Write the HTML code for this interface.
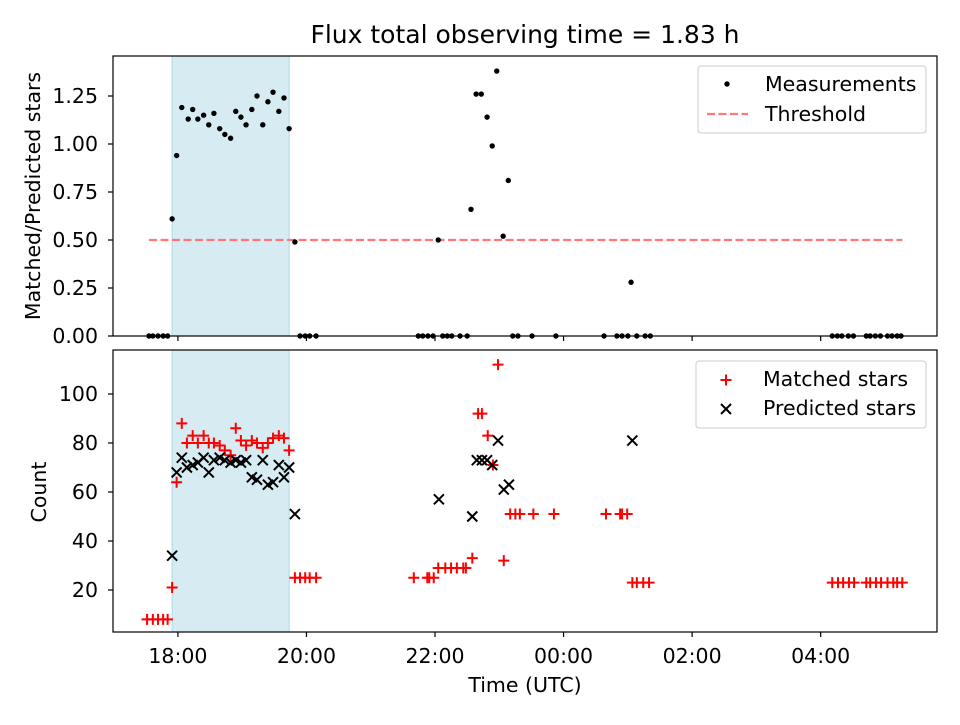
<!DOCTYPE html>
<html><head><meta charset="utf-8"><style>
body{margin:0;background:#fff;font-family:"Liberation Sans","DejaVu Sans",sans-serif}
svg text{font-family:"DejaVu Sans","Liberation Sans",sans-serif}
</style></head><body>
<svg id="c" width="960" height="720" viewBox="0 0 960 720"></svg>
<script>
const measT=[17.55,17.61,17.69,17.77,17.84,17.91,17.98,18.06,18.16,18.23,18.31,18.40,18.48,18.56,18.65,18.73,18.82,18.90,18.98,19.06,19.15,19.23,19.32,19.40,19.48,19.57,19.65,19.73,19.82,19.90,19.98,20.05,20.15,21.74,21.81,21.89,21.97,22.05,22.12,22.19,22.26,22.39,22.50,22.56,22.64,22.72,22.81,22.89,22.96,23.06,23.14,23.21,23.29,23.51,23.88,24.63,24.83,24.91,25.00,25.05,25.14,25.27,25.35,28.18,28.26,28.33,28.43,28.51,28.71,28.77,28.85,28.93,29.04,29.11,29.19,29.25];
const measV=[0,0,0,0,0,0.61,0.94,1.19,1.13,1.18,1.13,1.15,1.10,1.16,1.08,1.05,1.03,1.17,1.14,1.10,1.18,1.25,1.10,1.22,1.27,1.17,1.24,1.08,0.49,0,0,0,0,0,0,0,0,0.50,0,0,0,0,0,0.66,1.26,1.26,1.14,0.99,1.38,0.52,0.81,0,0,0,0,0,0,0,0,0.28,0,0,0,0,0,0,0,0,0,0,0,0,0,0,0,0];
const threshold=0.5, threshStart=17.55, threshEnd=29.27;
const shadeStart=17.91, shadeEnd=19.73;
const matchT=[17.52,17.61,17.69,17.77,17.84,17.91,17.98,18.06,18.14,18.23,18.31,18.40,18.48,18.56,18.65,18.73,18.82,18.90,18.98,19.06,19.15,19.23,19.32,19.40,19.48,19.57,19.65,19.73,19.82,19.90,19.98,20.05,20.15,21.67,21.88,21.91,21.98,22.05,22.16,22.25,22.34,22.44,22.48,22.58,22.67,22.73,22.82,22.90,22.98,23.07,23.17,23.25,23.32,23.53,23.85,24.66,24.88,24.91,24.99,25.07,25.14,25.24,25.33,28.18,28.27,28.35,28.44,28.52,28.71,28.77,28.86,28.94,29.04,29.13,29.19,29.27];
const matchV=[8,8,8,8,8,21,64,88,80,83,80,83,80,80,79,77,75,86,81,79,81,80,78,80,82,83,82,77,25,25,25,25,25,25,25,25,25,29,29,29,29,29,29,33,92,92,83,71,112,32,51,51,51,51,51,51,51,51,51,23,23,23,23,23,23,23,23,23,23,23,23,23,23,23,23,23];
const predT=[17.91,17.98,18.06,18.14,18.23,18.31,18.40,18.48,18.56,18.65,18.73,18.82,18.90,18.98,19.06,19.15,19.23,19.32,19.40,19.48,19.57,19.65,19.73,19.82,22.06,22.58,22.65,22.73,22.81,22.89,22.98,23.07,23.15,25.07];
const predV=[34,68,74,70,71,72,74,68,73,74,73,72,73,72,73,66,65,73,63,64,71,66,70,51,57,50,73,73,73,71,81,61,63,81];
const topTicks=[0,0.25,0.5,0.75,1.0,1.25];
const botTicks=[20,40,60,80,100];
const xTicks=[18,20,22,24,26,28];
const xLabels=["18:00","20:00","22:00","00:00","02:00","04:00"];

const NS="http://www.w3.org/2000/svg";
const svg=document.getElementById('c');
function el(tag,a,parent){const e=document.createElementNS(NS,tag);for(const k in a)e.setAttribute(k,a[k]);(parent||svg).appendChild(e);return e;}
const L=113,R=937;
const x=t=>L+(t-16.99)/(29.81-16.99)*(R-L);
const yT=v=>336-v*192;
const yB=v=>590-(v-20)*2.45;
const FS=20.5;

// top panel
const gTop=el('g',{});


const sh1=el('rect',{x:x(shadeStart),y:56,width:x(shadeEnd)-x(shadeStart),height:280,fill:'#add8e6','fill-opacity':0.5,stroke:'#add8e6'},gTop);


const th=el('line',{x1:x(threshStart),x2:x(threshEnd),y1:yT(threshold),y2:yT(threshold),stroke:'#f77',"stroke-width":2.2,"stroke-dasharray":"8,3.5"},gTop);


measT.forEach((t,i)=>{const c=el('circle',{cx:x(t),cy:yT(measV[i]),r:2.7,fill:'#000'},gTop);

});
el('rect',{x:L,y:56,width:R-L,height:280,fill:'none',stroke:'#000','stroke-width':1.2},gTop);
topTicks.forEach(v=>{el('line',{x1:L-5,x2:L,y1:yT(v),y2:yT(v),stroke:'#000','stroke-width':1.2},gTop);
const tx=el('text',{x:L-15,y:yT(v)+7,'font-size':FS,'text-anchor':'end'},gTop);tx.textContent=v.toFixed(2);

});
xTicks.forEach(t=>el('line',{x1:x(t),x2:x(t),y1:336,y2:341,stroke:'#000','stroke-width':1.2},gTop));
const yl1=el('text',{transform:'translate(40,196) rotate(-90)','font-size':FS,'text-anchor':'middle'},gTop);yl1.textContent='Matched/Predicted stars';


const title=el('text',{x:525,y:43,'font-size':25,'text-anchor':'middle'});title.textContent='Flux total observing time = 1.83 h';


// top legend
const lg1=el('g',{});


el('rect',{x:698,y:66,width:228,height:67,rx:3,fill:'#fff',stroke:'#ccc'},lg1);
el('circle',{cx:727,cy:84,r:2.7,fill:'#000'},lg1);
let t1=el('text',{x:765,y:91,'font-size':FS},lg1);t1.textContent='Measurements';
el('line',{x1:707,x2:748,y1:114,y2:114,stroke:'#f77','stroke-width':2.2,'stroke-dasharray':'8,3.5'},lg1);
let t2=el('text',{x:765,y:121,'font-size':FS},lg1);t2.textContent='Threshold';

// bottom panel
const gB=el('g',{});


const sh2=el('rect',{x:x(shadeStart),y:350,width:x(shadeEnd)-x(shadeStart),height:282,fill:'#add8e6','fill-opacity':0.5,stroke:'#add8e6'},gB);


function plus(cx,cy,p){el('path',{d:`M${cx-5.5},${cy}H${cx+5.5}M${cx},${cy-5.5}V${cy+5.5}`,stroke:'#f00','stroke-width':2},p);}
function cross(cx,cy,p){el('path',{d:`M${cx-5},${cy-5}L${cx+5},${cy+5}M${cx-5},${cy+5}L${cx+5},${cy-5}`,stroke:'#000','stroke-width':2},p);}
const gm=el('g',{},gB);


matchT.forEach((t,i)=>plus(x(t),yB(matchV[i]),gm));
const gp=el('g',{},gB);


predT.forEach((t,i)=>cross(x(t),yB(predV[i]),gp));
el('rect',{x:L,y:350,width:R-L,height:282,fill:'none',stroke:'#000','stroke-width':1.2},gB);
botTicks.forEach(v=>{el('line',{x1:L-5,x2:L,y1:yB(v),y2:yB(v),stroke:'#000','stroke-width':1.2},gB);
const tx=el('text',{x:L-15,y:yB(v)+7,'font-size':FS,'text-anchor':'end'},gB);tx.textContent=v;

});
xTicks.forEach((t,i)=>{el('line',{x1:x(t),x2:x(t),y1:632,y2:637,stroke:'#000','stroke-width':1.2},gB);
const tx=el('text',{x:x(t),y:663,'font-size':FS,'text-anchor':'middle'},gB);tx.textContent=xLabels[i];

});
const xl=el('text',{x:525,y:692,'font-size':FS,'text-anchor':'middle'});xl.textContent='Time (UTC)';


const yl2=el('text',{transform:'translate(46,492) rotate(-90)','font-size':FS,'text-anchor':'middle'});yl2.textContent='Count';


const lg2=el('g',{});


el('rect',{x:696,y:361,width:230,height:67,rx:3,fill:'#fff',stroke:'#ccc'},lg2);
plus(726,380,lg2);
let t3=el('text',{x:763,y:386,'font-size':FS},lg2);t3.textContent='Matched stars';
cross(726,409,lg2);
let t4=el('text',{x:763,y:415,'font-size':FS},lg2);t4.textContent='Predicted stars';
</script>
</body></html>
